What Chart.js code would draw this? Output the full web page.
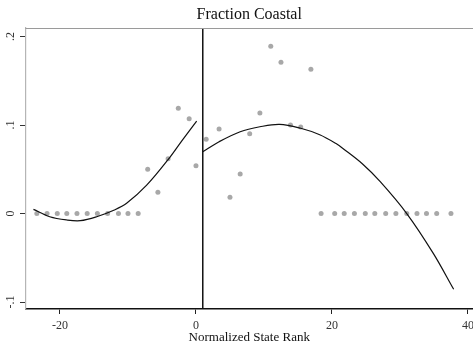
<!DOCTYPE html>
<html>
<head>
<meta charset="utf-8">
<script src="https://cdn.jsdelivr.net/npm/chart.js@4/dist/chart.umd.min.js"></script>
<style>
html,body{margin:0;padding:0;background:#fff;}
canvas{display:block;}
</style>
</head>
<body>
<canvas id="c" width="473" height="345"></canvas>
<script>
// ---- data ----
const titleText = "Fraction Coastal";
const xAxisTitle = "Normalized State Rank";
const xTickValues = [-20, 0, 20, 40];
const xTickLabels = ["-20", "0", "20", "40"];
const yTickValues = [-0.1, 0, 0.1, 0.2];
const yTickLabels = ["-.1", "0", ".1", ".2"];
const xMin = -25.07, xMax = 40.74;
const yMin = -0.1073, yMax = 0.2096;
const cutoff = 1;

const rankX = [-23.4, -21.9, -20.4, -19.0, -17.5, -16.0, -14.5, -13.0, -11.4, -10.0, -8.5,
  -7.1, -5.6, -4.1, -2.6, -1.0, 0.0,
  1.5, 3.4, 5.0, 6.5, 7.9, 9.4, 11.0, 12.5, 13.9, 15.4, 16.9,
  18.4, 20.4, 21.8, 23.3, 24.9, 26.3, 27.9, 29.4, 31.0, 32.5, 33.9, 35.4, 37.5];
const fracY = [0, 0, 0, 0, 0, 0, 0, 0, 0, 0, 0,
  0.050, 0.024, 0.062, 0.119, 0.107, 0.054,
  0.084, 0.0955, 0.0185, 0.0446, 0.090, 0.1136, 0.189, 0.171, 0.100, 0.0977, 0.163,
  0, 0, 0, 0, 0, 0, 0, 0, 0, 0, 0, 0, 0];

const leftFitX = [-23.9, -21.5, -19.0, -17.0, -14.6, -12.0, -10.2, -7.25, -4.07, -2.0, 0.1];
const leftFitY = [0.0047, -0.0036, -0.0073, -0.0081, -0.0036, 0.004, 0.0115, 0.032, 0.0612, 0.083, 0.1045];
const rightFitX = [1.0, 3.4, 6.5, 9.4, 12.3, 15.4, 18.2, 20.6, 21.7, 24.5, 27.1, 31.0, 34.9, 37.9];
const rightFitY = [0.0698, 0.0811, 0.0924, 0.098, 0.1008, 0.0963, 0.089, 0.079, 0.073, 0.056, 0.036, 0, -0.045, -0.0856];

const pts = (xs, ys) => xs.map((x, i) => ({x: x, y: ys[i]}));
const SERIF = "'Liberation Serif', 'DejaVu Serif', serif";

const extras = {
  id: 'extras',
  afterDraw(chart) {
    const ctx = chart.ctx, ca = chart.chartArea, ys = chart.scales.y, xs = chart.scales.x;
    ctx.save();
    // top frame line
    ctx.strokeStyle = '#9a9a9a';
    ctx.lineWidth = 1.2;
    ctx.beginPath();
    ctx.moveTo(ca.left, ca.top + 0.5);
    ctx.lineTo(ca.right, ca.top + 0.5);
    ctx.stroke();
    ctx.fillStyle = '#333';
    ctx.font = "12px " + SERIF;
    ctx.textAlign = 'center';
    ctx.textBaseline = 'middle';
    // rotated y tick labels
    yTickValues.forEach((v, i) => {
      const py = ys.getPixelForValue(v);
      ctx.save();
      ctx.translate(11, py);
      ctx.rotate(-Math.PI / 2);
      ctx.fillText(yTickLabels[i], 0, 0);
      ctx.restore();
    });
    // x tick labels
    xTickValues.forEach((v, i) => {
      const px = xs.getPixelForValue(v);
      ctx.fillText(xTickLabels[i], px, ca.bottom + 17);
    });
    ctx.restore();
  }
};

new Chart(document.getElementById('c'), {
  type: 'scatter',
  data: {
    datasets: [
      {
        label: 'points',
        data: pts(rankX, fracY),
        pointRadius: 2.5,
        pointBackgroundColor: '#a8a8a8',
        pointBorderWidth: 0,
        showLine: false,
        order: 2
      },
      {
        label: 'left fit',
        data: pts(leftFitX, leftFitY),
        showLine: true,
        pointRadius: 0,
        borderColor: '#111',
        borderWidth: 1.2,
        tension: 0.35,
        order: 1
      },
      {
        label: 'right fit',
        data: pts(rightFitX, rightFitY),
        showLine: true,
        pointRadius: 0,
        borderColor: '#111',
        borderWidth: 1.2,
        tension: 0.35,
        order: 1
      },
      {
        label: 'cutoff',
        data: [{x: cutoff, y: yMin}, {x: cutoff, y: yMax}],
        showLine: true,
        pointRadius: 0,
        borderColor: '#111',
        borderWidth: 1.5,
        order: 0
      }
    ]
  },
  options: {
    responsive: false,
    animation: false,
    devicePixelRatio: 1,
    layout: {autoPadding: false, padding: {left: 0, right: 0, top: 0, bottom: 0}},
    plugins: {
      legend: {display: false},
      tooltip: {enabled: false},
      title: {
        display: true,
        text: titleText,
        fullSize: false,
        color: '#111',
        font: {family: SERIF, size: 16, weight: 'normal', lineHeight: 1.2},
        padding: {top: 5, bottom: 3.8}
      }
    },
    scales: {
      x: {
        type: 'linear',
        min: xMin, max: xMax,
        afterBuildTicks: s => { s.ticks = xTickValues.map(v => ({value: v})); },
        afterFit: s => { s.height = 36.5; s.paddingLeft = 0; s.paddingRight = 0; },
        ticks: {display: false},
        grid: {display: true, drawOnChartArea: false, drawTicks: true, tickLength: 5.5, color: '#222', lineWidth: 1},
        border: {display: true, color: '#111', width: 1.6},
        title: {
          display: true,
          text: xAxisTitle,
          color: '#111',
          font: {family: SERIF, size: 13, lineHeight: 1.2},
          padding: {top: 0, bottom: 0}
        }
      },
      y: {
        type: 'linear',
        min: yMin, max: yMax,
        afterBuildTicks: s => { s.ticks = yTickValues.map(v => ({value: v})); },
        afterFit: s => { s.width = 25.5; s.paddingTop = 0; s.paddingBottom = 0; },
        ticks: {display: false},
        grid: {display: true, drawOnChartArea: false, drawTicks: true, tickLength: 5.5, color: '#333', lineWidth: 1},
        border: {display: true, color: '#b5b5b5', width: 1.2}
      }
    }
  },
  plugins: [extras]
});
</script>
</body>
</html>
